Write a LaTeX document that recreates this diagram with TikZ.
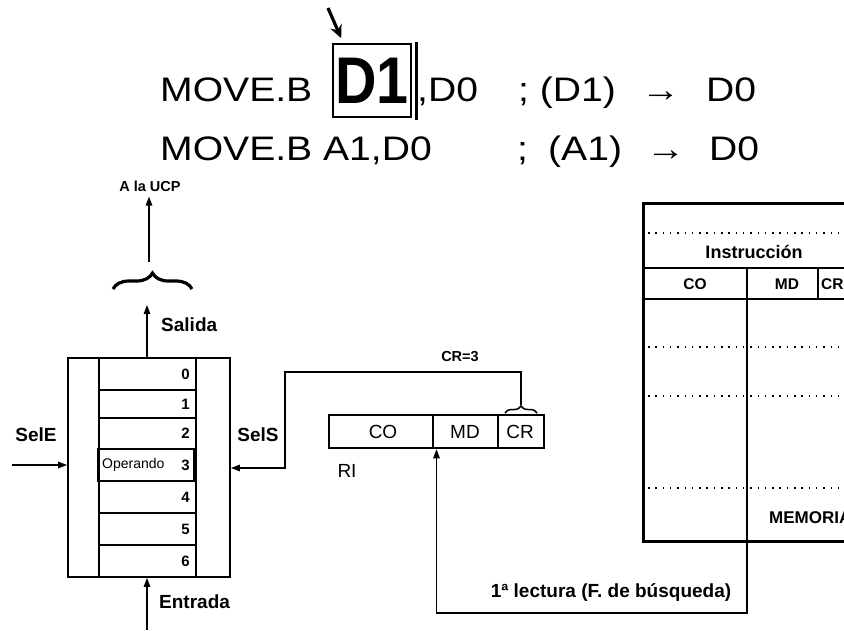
\documentclass[tikz,border=0pt]{standalone}
\usepackage{fontspec}
\setmainfont{Liberation Sans}[FakeStretch=1.15]
\newfontfamily\dfont{Liberation Sans}[FakeStretch=0.87]
\newfontfamily\lfont{Liberation Sans}
\usetikzlibrary{arrows.meta,decorations.pathreplacing,calc}
\tikzset{
  big/.style={font=\fontsize{34}{34}\selectfont, inner sep=0pt, anchor=base west},
  lbl/.style={font=\lfont\fontsize{19}{19}\selectfont\bfseries, inner sep=0pt},
  sm/.style={font=\lfont\fontsize{14.5}{14.5}\selectfont\bfseries, inner sep=0pt},
  ritxt/.style={font=\lfont\fontsize{19}{19}\selectfont, inner sep=0pt},
  memtxt/.style={font=\lfont\fontsize{15.5}{15.5}\selectfont\bfseries, inner sep=0pt},
  conn/.style={line width=1.3pt},
  tipped/.style={-{Triangle[length=9pt,width=6.5pt]}},
  dots/.style={line width=1.2pt, dash pattern=on 1.5pt off 5.8pt},
  boxed/.style={draw, inner sep=0pt},
}
\begin{document}
\begin{tikzpicture}[x=1pt,y=-1pt]
\useasboundingbox (0,0) rectangle (844,630);
\clip (0,0) rectangle (844,630);
\fill[white] (0,0) rectangle (844,630);

% ---- top instructions ----
\node[big] (mv1) at (160,101) {MOVE.B};
\node[boxed, line width=1.6pt, minimum width=78pt, minimum height=73pt] (d1box) at (372,80.5) {};
\node[font=\dfont\fontsize{66}{66}\selectfont\bfseries, inner sep=0pt, anchor=base] (d1) at (372,103) {D1};
\coordinate (barT) at (416,42);
\coordinate (barB) at (416,120);
\draw[line width=3pt] (barT) -- (barB);
\node[big] (c1) at (417,101) {,D0};
\node[big] (cm1) at (518,101) {; (D1)};
\node[big] (ar1) at (641,101) {→};
\node[big] (d01) at (706,101) {D0};
\coordinate (atop) at (328,8);
\draw[line width=3.2pt, -{Stealth[length=13pt,width=12pt]}] (atop) -- ($(d1box.north west)+(9,-5)$);

\node[big] (mv2) at (160,160) {MOVE.B A1,D0};
\node[big] (cm2) at (517,160) {;};
\node[big] (a1) at (548,160) {(A1)};
\node[big] (ar2) at (646,160) {→};
\node[big] (d02) at (709,160) {D0};

% ---- register file ----
\node[boxed, line width=1.8pt, minimum width=162pt, minimum height=219pt] (reg) at (149,467.5) {};
\draw[line width=1.5pt] (99,358) -- (99,577) (196,358) -- (196,577);
\foreach \y in {390,418,449,481,513,545} \draw[line width=1.3pt] (99,\y) -- (196,\y);
\node[boxed, line width=2.4pt, minimum width=96pt, minimum height=32pt] (opbox) at (146.5,465) {};
\foreach \d/\y in {0/374,1/404,2/433.5,3/465,4/497,5/529,6/561}
  \node[font=\lfont\fontsize{15}{15}\selectfont\bfseries, anchor=east, inner sep=0pt] (n\d) at (190,\y) {\d};
\node[font=\lfont\fontsize{14}{14}\selectfont, anchor=west, inner sep=0pt] (opl) at (102,465) {Operando};

% output side
\node[lbl, anchor=west] (sal) at (161,325) {Salida};
\coordinate (salT) at (147,305);
\draw[conn,tipped] ($(reg.north)+(-2,0)$) -- (salT);
\coordinate (brL) at (113,289);
\coordinate (brR) at (192,289);
\draw[decorate, decoration={brace, amplitude=16pt}, line width=3.2pt] (brL) -- (brR);
\node[sm] (ucp) at (150,186) {A la UCP};
\coordinate (ucpB) at (149,262);
\draw[conn,tipped] (ucpB) -- ($(ucp.south)+(-1,5)$);

% selectors
\node[lbl] (sele) at (36,435) {SelE};
\coordinate (seleS) at (12,465);
\draw[conn,tipped] (seleS) -- (reg.west |- seleS);
\node[lbl] (sels) at (258,435) {SelS};
\node[lbl, anchor=west] (ent) at (159,602) {Entrada};
\coordinate (entS) at (147,630);
\draw[conn,tipped] (entS) -- (reg.south -| entS);

% ---- RI ----
\node[boxed, line width=2.5pt, minimum width=215pt, minimum height=33pt] (ri) at (436.5,431.5) {};
\draw[line width=2.2pt] (433,415) -- (433,448) (498,415) -- (498,448);
\node[ritxt] (rico) at (383,432) {CO};
\node[ritxt] (rimd) at (465,432) {MD};
\node[ritxt] (ricr) at (520,432) {CR};
\node[font=\lfont\fontsize{19}{19}\selectfont, inner sep=0pt] (rilbl) at (347,471) {RI};
\coordinate (crbL) at (505,413);
\coordinate (crbR) at (537,413);
\draw[decorate, decoration={brace, amplitude=7pt}, line width=1.5pt] (crbL) -- (crbR);
\coordinate (crtop) at (521,405);
\coordinate (kink) at (285,372);
\node[sm] (cr3) at (460,357) {CR=3};
\draw[conn,tipped] (crtop) |- (kink) |- ($(reg.east)+(0,0.5)$);

% ---- memory ----
\node[boxed, line width=2.6pt, minimum width=240pt, minimum height=338pt, anchor=north west] (mem) at (642,202) {};
\draw[line width=2.2pt] (642,268) -- (870,268) (642,299) -- (870,299);
\draw[line width=1.8pt] (818,268) -- (818,299);
\foreach \y in {233,347,396,488} \draw[dots] (648,\y) -- (844,\y);
\node[font=\lfont\fontsize{18}{18}\selectfont\bfseries, inner sep=0pt] (instr) at (754,252) {Instrucción};
\node[memtxt] (mco) at (695,284) {CO};
\node[memtxt] (mmd) at (787,284) {MD};
\node[memtxt, anchor=west] (mcr) at (821,284) {CR};
\node[font=\lfont\fontsize{17}{17}\selectfont\bfseries, inner sep=0pt, anchor=west] (memlbl) at (769,518) {MEMORIA};

% ---- fetch path ----
\coordinate (memcol) at (747,268);
\coordinate (low) at (747,613);
\draw[conn,tipped] (memcol) -- (low) -| (ri.south);
\node[lbl] (lect) at (611,592) {1ª lectura (F. de búsqueda)};
\end{tikzpicture}
\end{document}
